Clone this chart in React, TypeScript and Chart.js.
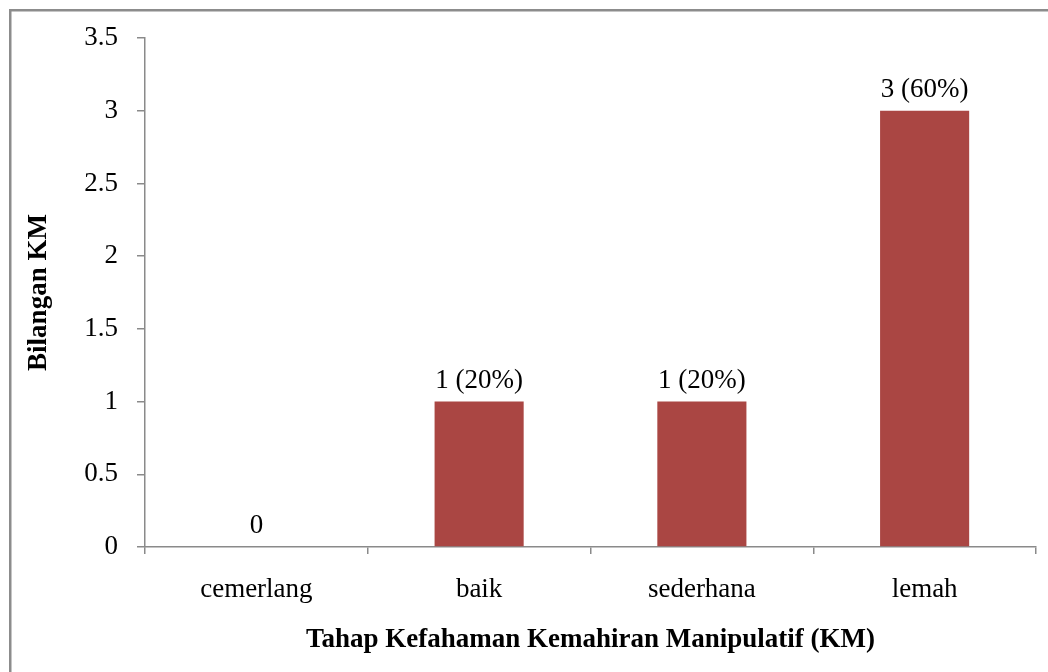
import React, { useEffect, useRef } from "react";
import { Chart, registerables } from "chart.js";

Chart.register(...registerables);

const categories = ["cemerlang", "baik", "sederhana", "lemah"];
const counts = [0, 1, 1, 3];
const valueLabels = ["0", "1 (20%)", "1 (20%)", "3 (60%)"];
const yTitle = "Bilangan KM";
const xTitle = "Tahap Kefahaman Kemahiran Manipulatif (KM)";

const FONT = "'Liberation Serif', 'Times New Roman', serif";
const AXIS = "#8a8a8a";
const FS = 27;

const framePlugin = {
  id: "frame",
  beforeDraw(chart: any) {
    const ctx = chart.ctx;
    ctx.save();
    ctx.fillStyle = "#ffffff";
    ctx.fillRect(0, 0, chart.width, chart.height);
    ctx.strokeStyle = "#8c8c8c";
    ctx.lineWidth = 2.5;
    ctx.strokeRect(10.25, 10.25, chart.width + 50, chart.height + 50);
    ctx.restore();
  },
};

const labelPlugin = {
  id: "valueLabels",
  afterDatasetsDraw(chart: any) {
    const ctx = chart.ctx;
    const meta = chart.getDatasetMeta(0);
    ctx.save();
    ctx.font = `${FS}px ${FONT}`;
    ctx.fillStyle = "#000000";
    ctx.textAlign = "center";
    ctx.textBaseline = "alphabetic";
    meta.data.forEach((bar: any, i: number) => {
      ctx.fillText(valueLabels[i], bar.x, bar.y - 14);
    });
    ctx.restore();
  },
};

export default function App() {
  const ref = useRef<HTMLCanvasElement>(null);

  useEffect(() => {
    if (!ref.current) return;
    const chart = new Chart(ref.current, {
      type: "bar",
      data: {
        labels: categories,
        datasets: [
          {
            data: counts,
            backgroundColor: "#AA4643",
            borderWidth: 0,
            barPercentage: 0.4,
            categoryPercentage: 1,
          },
        ],
      },
      options: {
        responsive: false,
        animation: false,
        events: [],
        layout: { padding: { top: 38, right: 12, left: 0, bottom: 0 } },
        plugins: {
          legend: { display: false },
          tooltip: { enabled: false },
        },
        scales: {
          x: {
            afterFit: (s: any) => {
              s.height = 125;
            },
            grid: {
              display: true,
              drawOnChartArea: false,
              drawTicks: true,
              tickLength: 7,
              color: AXIS,
              lineWidth: 1.5,
              offset: true,
            },
            border: { display: true, color: AXIS, width: 1.5 },
            ticks: {
              color: "#000000",
              font: { family: FONT, size: FS },
              padding: 20,
              maxRotation: 0,
              autoSkip: false,
            },
            title: {
              display: true,
              text: xTitle,
              color: "#000000",
              font: { family: FONT, size: FS, weight: "bold" },
              padding: { top: 0, bottom: 16 },
            },
          },
          y: {
            min: 0,
            max: 3.5,
            afterFit: (s: any) => {
              s.width = 145;
            },
            grid: {
              display: true,
              drawOnChartArea: false,
              drawTicks: true,
              tickLength: 8,
              color: AXIS,
              lineWidth: 1.5,
            },
            border: { display: true, color: AXIS, width: 1.5 },
            ticks: {
              stepSize: 0.5,
              color: "#000000",
              font: { family: FONT, size: FS },
              padding: 19,
              callback: (v: any) => String(Number(v)),
            },
            title: {
              display: true,
              text: yTitle,
              color: "#000000",
              font: { family: FONT, size: FS, weight: "bold" },
              padding: { top: 23, bottom: 0 },
            },
          },
        },
      },
      plugins: [framePlugin, labelPlugin],
    });
    return () => chart.destroy();
  }, []);

  return (
    <canvas
      ref={ref}
      width={1048}
      height={672}
      style={{ position: "absolute", left: 0, top: 0, display: "block" }}
    />
  );
}
